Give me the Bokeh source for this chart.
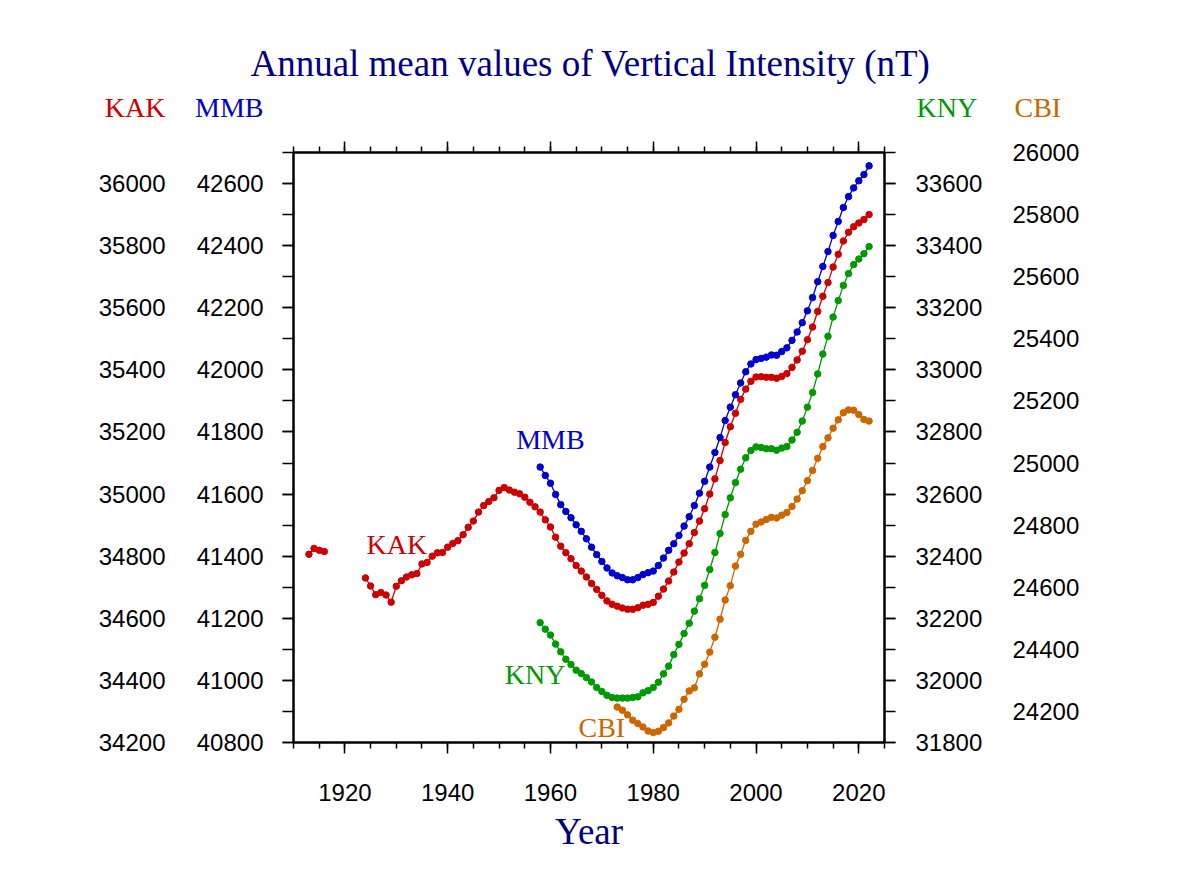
from bokeh.plotting import figure
from bokeh.models import Range1d, LinearAxis, SingleIntervalTicker, Label, ColumnDataSource
from bokeh.embed import file_html
from bokeh.resources import INLINE

NAN = float("nan")

# ---------------- data ----------------
kak_years = list(range(1913, 2023))
kak_values = [34806, 34825, 34819, 34815,
              NAN, NAN, NAN, NAN, NAN, NAN, NAN,
              34730, 34704, 34676, 34683, 34675, 34652, 34703, 34721, 34733, 34740,
              34744, 34775, 34780, 34800, 34811, 34812, 34829, 34841, 34850, 34869,
              34893, 34913, 34942, 34963, 34976, 34988, 35012, 35021, 35013, 35006,
              35001, 34990, 34974, 34959, 34942, 34917, 34894, 34861, 34832, 34811,
              34792, 34770, 34752, 34733, 34712, 34693, 34674, 34656, 34645, 34639,
              34633, 34629, 34629, 34634, 34642, 34645, 34651, 34671, 34694, 34720,
              34749, 34781, 34810, 34840, 34876, 34913, 34953, 35000, 35049, 35108,
              35166, 35217, 35260, 35305, 35338, 35363, 35377, 35378, 35376, 35376,
              35373, 35379, 35388, 35408, 35432, 35460, 35497, 35538, 35588, 35637,
              35681, 35731, 35772, 35815, 35843, 35861, 35873, 35884, 35900]

mmb_years = list(range(1958, 2023))
mmb_values = [41687, 41660, 41635, 41599, 41566, 41544, 41524, 41501, 41480, 41456,
              41429, 41405, 41383, 41362, 41346, 41337, 41331, 41324, 41324, 41331,
              41341, 41347, 41352, 41370, 41394, 41419, 41440, 41467, 41497, 41527,
              41563, 41603, 41641, 41687, 41734, 41782, 41837, 41880, 41920, 41958,
              41994, 42019, 42033, 42037, 42041, 42048, 42047, 42059, 42071, 42095,
              42122, 42152, 42190, 42233, 42284, 42333, 42381, 42433, 42478, 42523,
              42558, 42586, 42609, 42629, 42657]

kny_years = list(range(1958, 2023))
kny_values = [32186, 32165, 32146, 32117, 32092, 32068, 32051, 32033, 32022, 32009,
              31995, 31977, 31964, 31952, 31945, 31943, 31943, 31943, 31945, 31947,
              31960, 31967, 31977, 31994, 32021, 32046, 32083, 32116, 32151, 32184,
              32223, 32263, 32306, 32357, 32412, 32473, 32534, 32588, 32637, 32680,
              32717, 32740, 32752, 32750, 32746, 32746, 32741, 32748, 32753, 32774,
              32799, 32835, 32880, 32927, 32987, 33051, 33108, 33170, 33223, 33272,
              33310, 33339, 33357, 33374, 33397]

cbi_years = list(range(1973, 2023))
cbi_values = [24214, 24204, 24189, 24172, 24161, 24150, 24137, 24132, 24136, 24148,
              24163, 24185, 24207, 24239, 24266, 24276, 24321, 24352, 24391, 24439,
              24497, 24559, 24605, 24668, 24706, 24751, 24780, 24803, 24810, 24818,
              24825, 24823, 24832, 24841, 24860, 24884, 24911, 24943, 24976, 25015,
              25053, 25081, 25112, 25139, 25162, 25171, 25170, 25156, 25140, 25135]

stations = ["KAK", "MMB", "KNY", "CBI"]
colors = {"KAK": "#cc0000", "MMB": "#0000cc", "KNY": "#009900", "CBI": "#cc6600"}
y_ranges = {"KAK": (34200, 36100), "MMB": (40800, 42700),
            "KNY": (31800, 33700), "CBI": (24100, 26000)}
x_range = (1910, 2025)
title_text = "Annual mean values of Vertical Intensity (nT)"
x_title = "Year"

NAVY = "#000080"
SERIF = "Liberation Serif"
SANS = "Liberation Sans"

W = 1176
HEAD_H = 130
MAIN_H = 760

# ---------------- header strip (title + axis station names) ----------------
# its frame covers the whole strip, so x/y are pixel positions (y from the top)
head = figure(width=W, height=HEAD_H, output_backend="svg", toolbar_location=None,
              x_range=Range1d(0, W), y_range=Range1d(HEAD_H, 0),
              x_axis_location=None, y_axis_location=None, title=None,
              min_border=0, min_border_left=0, min_border_right=0,
              min_border_top=0, min_border_bottom=0,
              background_fill_color="white", border_fill_color="white")
head.outline_line_color = None
head.grid.visible = False

head.add_layout(Label(x=590, y=63, text=title_text, text_font=SERIF,
                      text_font_size="37px", text_color=NAVY,
                      text_align="center", text_baseline="alphabetic"))
header_pos = [("KAK", 165, "right"), ("MMB", 263, "right"),
              ("KNY", 916, "left"), ("CBI", 1014, "left")]
for name, hx, align in header_pos:
    head.add_layout(Label(x=hx, y=107, text=name, text_font=SERIF,
                          text_font_size="28px", text_color=colors[name],
                          text_align=align, text_baseline="alphabetic"))

# ---------------- main plot ----------------
p = figure(width=W, height=MAIN_H, output_backend="svg", toolbar_location=None,
           x_range=Range1d(*x_range), y_range=Range1d(*y_ranges["KAK"]),
           x_axis_location=None, y_axis_location=None, title=None,
           min_border_left=293, min_border_right=292,
           min_border_top=22, min_border_bottom=148,
           background_fill_color="white", border_fill_color="white")
p.grid.visible = False
p.outline_line_color = "black"
p.outline_line_width = 2

p.extra_y_ranges = {k: Range1d(*y_ranges[k]) for k in ["MMB", "KNY", "CBI"]}


def style_axis(ax, inner=True, standoff=20, labels=True):
    ax.major_label_text_font = SANS
    ax.major_label_text_font_size = "24px"
    ax.major_label_text_color = "black" if labels else None
    ax.major_label_standoff = standoff
    if inner:
        ax.axis_line_color = "black"
        ax.axis_line_width = 2
        ax.major_tick_line_color = "black"
        ax.minor_tick_line_color = "black"
        ax.major_tick_line_width = 1.5
        ax.minor_tick_line_width = 1.5
        ax.major_tick_in = 0
        ax.minor_tick_in = 0
    else:
        ax.axis_line_color = None
        ax.major_tick_line_color = None
        ax.minor_tick_line_color = None
        ax.major_tick_out = 0
        ax.minor_tick_out = 0
        ax.major_tick_in = 0
        ax.minor_tick_in = 0


def y_ticker():
    return SingleIntervalTicker(interval=200, num_minor_ticks=2)


# left axes: MMB inner, KAK outer
ax_mmb = LinearAxis(y_range_name="MMB", ticker=y_ticker())
style_axis(ax_mmb, inner=True, standoff=19)
ax_mmb.major_tick_out = 11
ax_mmb.minor_tick_out = 11
p.add_layout(ax_mmb, "left")

ax_kak = LinearAxis(ticker=y_ticker())
style_axis(ax_kak, inner=False, standoff=28)
p.add_layout(ax_kak, "left")

# right axes: KNY inner, CBI outer
ax_kny = LinearAxis(y_range_name="KNY", ticker=y_ticker())
style_axis(ax_kny, inner=True, standoff=20)
ax_kny.major_tick_out = 11
ax_kny.minor_tick_out = 11
p.add_layout(ax_kny, "right")

ax_cbi = LinearAxis(y_range_name="CBI", ticker=y_ticker())
style_axis(ax_cbi, inner=False, standoff=27)
p.add_layout(ax_cbi, "right")

# x axes
ax_b = LinearAxis(ticker=SingleIntervalTicker(interval=20, num_minor_ticks=4))
style_axis(ax_b, inner=True, standoff=30)
ax_b.major_tick_out = 11
ax_b.minor_tick_out = 6
ax_b.axis_label = x_title
ax_b.axis_label_text_font = SERIF
ax_b.axis_label_text_font_size = "37px"
ax_b.axis_label_text_font_style = "normal"
ax_b.axis_label_text_color = NAVY
ax_b.axis_label_standoff = 7
p.add_layout(ax_b, "below")

ax_t = LinearAxis(ticker=SingleIntervalTicker(interval=20, num_minor_ticks=4))
style_axis(ax_t, inner=True, standoff=0, labels=False)
ax_t.major_tick_out = 11
ax_t.minor_tick_out = 6
p.add_layout(ax_t, "above")

# series
series = {"KAK": (kak_years, kak_values), "MMB": (mmb_years, mmb_values),
          "KNY": (kny_years, kny_values), "CBI": (cbi_years, cbi_values)}
for name in stations:
    yrs, vals = series[name]
    src = ColumnDataSource(dict(x=yrs, y=vals))
    kw = {} if name == "KAK" else {"y_range_name": name}
    p.line("x", "y", source=src, line_color=colors[name], line_width=1.3, **kw)
    p.scatter("x", "y", source=src, size=6.5, fill_color=colors[name],
              line_color=colors[name], **kw)

# in-plot station labels (year, value in the station's own units)
inplot = {"KAK": (1930.1, 34837), "MMB": (1960.0, 41777),
          "KNY": (1957.0, 32018), "CBI": (1970.0, 24149)}
for name, (lx, ly) in inplot.items():
    kw = {} if name == "KAK" else {"y_range_name": name}
    p.add_layout(Label(x=lx, y=ly, text=name, text_font=SERIF,
                       text_font_size="28px", text_color=colors[name],
                       text_align="center", text_baseline="alphabetic", **kw))

# two separate roots (stacked), so their frames are not aligned to each other
open("out.html", "w").write(file_html((head, p), INLINE))
